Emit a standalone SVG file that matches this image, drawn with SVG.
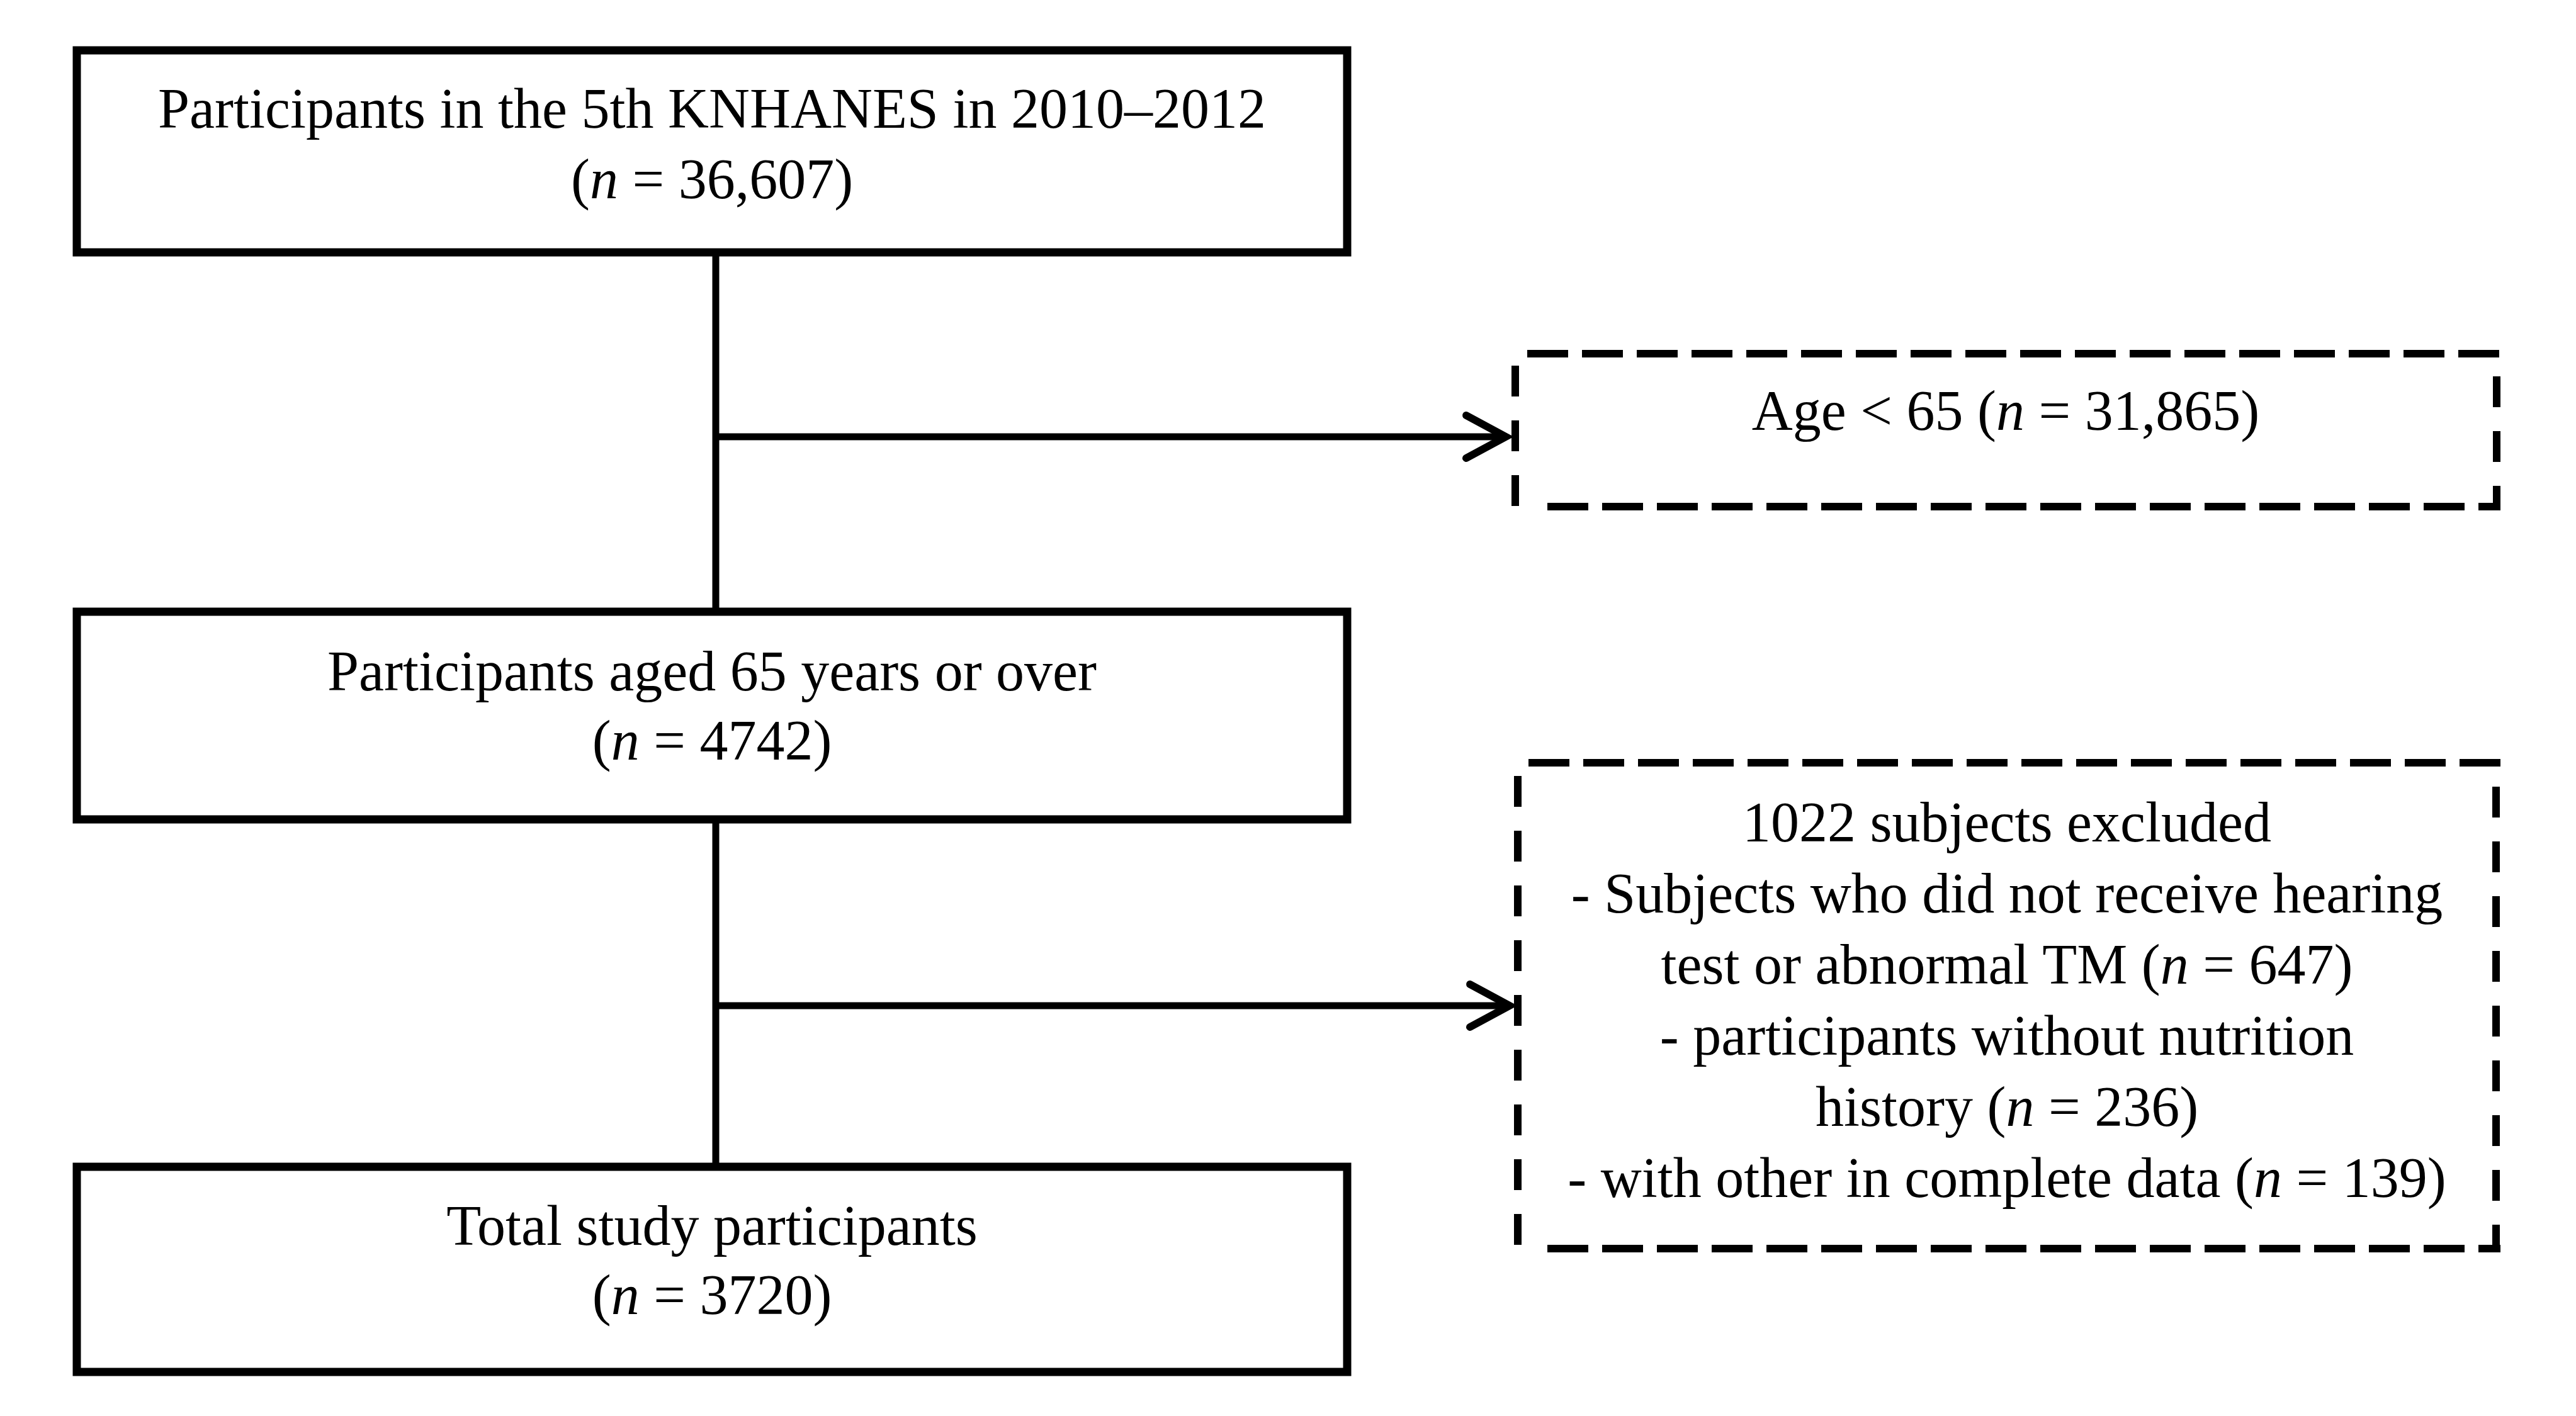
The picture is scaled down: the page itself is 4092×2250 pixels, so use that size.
<svg xmlns="http://www.w3.org/2000/svg" width="4092" height="2250" viewBox="0 0 4092 2250">
<style>
.box{fill:#fff;stroke:#000;stroke-width:13}
.t{font-family:"Liberation Serif","Times New Roman",serif;font-size:90px;fill:#000;text-anchor:middle}
.i{font-style:italic}
.con{fill:none;stroke:#000;stroke-width:11}
.dh{fill:none;stroke:#000;stroke-width:12;stroke-dasharray:65 22}
.dv{fill:none;stroke:#000;stroke-width:12;stroke-dasharray:49 38}
</style>
<defs>
<marker id="arr" markerUnits="userSpaceOnUse" markerWidth="120" markerHeight="120" refX="0" refY="0" orient="auto" overflow="visible">
<path d="M-63,-34 L0,0 L-63,34" fill="none" stroke="#000" stroke-width="12" stroke-linecap="round" stroke-linejoin="miter"/>
</marker>
</defs>
<rect width="4092" height="2250" fill="#fff"/>
<g id="connectors">
<path class="con" d="M1137,407 V966"/>
<path class="con" d="M1137,1308 V1848"/>
<path class="con" d="M1137,694 H2392" marker-end="url(#arr)"/>
<path class="con" d="M1137,1598 H2398" marker-end="url(#arr)"/>
</g>
<g id="n1">
<rect class="box" x="122" y="80" width="2018" height="321"/>
<text class="t" x="1131" y="203">Participants in the 5th KNHANES in 2010–2012</text>
<text class="t" x="1131" y="315">(<tspan class="i">n</tspan> = 36,607)</text>
</g>
<g id="n2">
<rect class="box" x="122" y="972" width="2018" height="330"/>
<text class="t" x="1131" y="1097">Participants aged 65 years or over</text>
<text class="t" x="1131" y="1207">(<tspan class="i">n</tspan> = 4742)</text>
</g>
<g id="n3">
<rect class="box" x="122" y="1854" width="2018" height="326"/>
<text class="t" x="1131" y="1978">Total study participants</text>
<text class="t" x="1131" y="2088">(<tspan class="i">n</tspan> = 3720)</text>
</g>
<g id="e1">
<rect x="2407" y="562" width="1559" height="243" fill="#fff"/>
<path class="dh" d="M2426,562 H3972"/>
<path class="dh" d="M2458,805 H3972"/>
<path class="dv" d="M2407,581 V808"/>
<path class="dv" d="M3966,598 V808"/>
<text class="t" x="3186" y="683">Age &lt; 65 (<tspan class="i">n</tspan> = 31,865)</text>
</g>
<g id="e2">
<rect x="2411" y="1212" width="1554" height="772" fill="#fff"/>
<path class="dh" d="M2428,1212 H3972"/>
<path class="dh" d="M2458,1984 H3972"/>
<path class="dv" d="M2411,1233 V1987"/>
<path class="dv" d="M3965,1250 V1987"/>
<text class="t" x="3188" y="1337">1022 subjects excluded</text>
<text class="t" x="3188" y="1450">- Subjects who did not receive hearing</text>
<text class="t" x="3188" y="1563">test or abnormal TM (<tspan class="i">n</tspan> = 647)</text>
<text class="t" x="3188" y="1676">- participants without nutrition</text>
<text class="t" x="3188" y="1789">history (<tspan class="i">n</tspan> = 236)</text>
<text class="t" x="3188" y="1902">- with other in complete data (<tspan class="i">n</tspan> = 139)</text>
</g>
</svg>
